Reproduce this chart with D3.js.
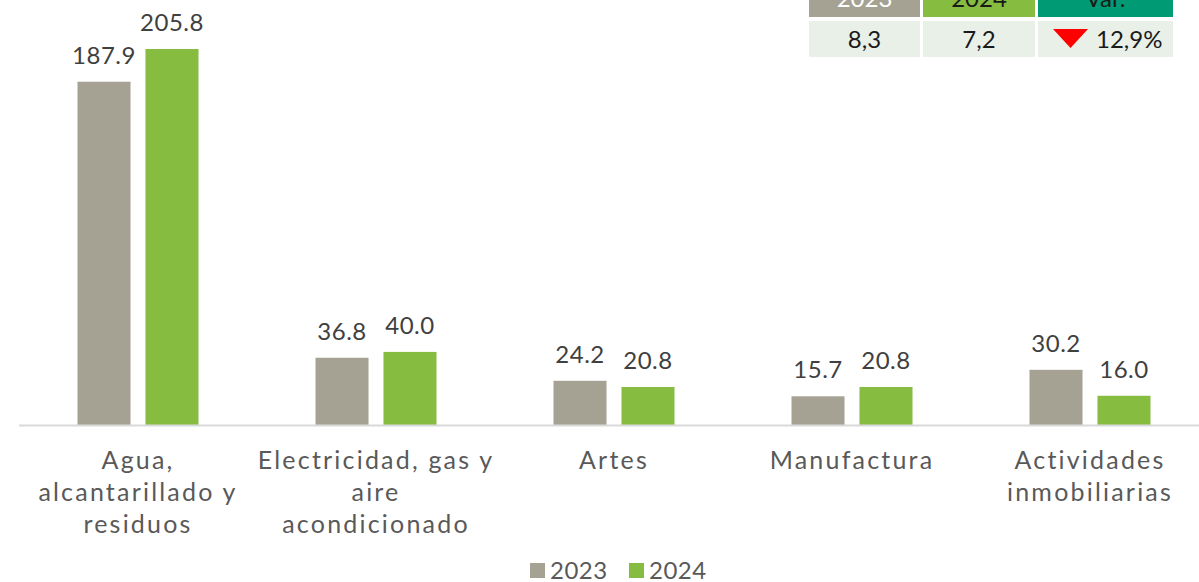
<!DOCTYPE html>
<html>
<head>
<meta charset="utf-8">
<script src="https://cdn.jsdelivr.net/npm/d3@7"></script>
<style>
  body { margin: 0; background: #fff; }
  svg text { font-family: "Lato", "DejaVu Sans", sans-serif; }
</style>
</head>
<body>
<div id="chart"></div>
<script>
const categories = [
  ["Agua,", "alcantarillado y", "residuos"],
  ["Electricidad, gas y", "aire", "acondicionado"],
  ["Artes"],
  ["Manufactura"],
  ["Actividades", "inmobiliarias"]
];
const series = ["2023", "2024"];
const values2023 = [187.9, 36.8, 24.2, 15.7, 30.2];
const values2024 = [205.8, 40.0, 20.8, 20.8, 16.0];
const tableHead = ["2023", "2024", "Var."];
const tableRow = ["8,3", "7,2", "12,9%"];

const colors = { "2023": "#a5a294", "2024": "#86bc40" };
const width = 1199, height = 582;
const baseY = 425;

const svg = d3.select("#chart").append("svg")
  .attr("width", width).attr("height", height);

const x0 = d3.scaleBand().domain(d3.range(categories.length)).range([19, 1209]);
const x1 = d3.scaleBand().domain(series).range([-60.5, 60.5]).paddingInner(0.22);
const y = d3.scaleLinear().domain([0, 205.8]).range([baseY, 49]);

const data = categories.map((c, i) => ({ i, vals: [values2023[i], values2024[i]] }));

const groups = svg.selectAll("g.grp").data(data).enter().append("g")
  .attr("transform", d => "translate(" + (x0(d.i) + x0.bandwidth() / 2) + ",0)");

groups.selectAll("rect").data(d => d.vals.map((v, k) => ({ k: series[k], v })))
  .enter().append("rect")
  .attr("x", d => x1(d.k))
  .attr("width", x1.bandwidth())
  .attr("y", d => y(d.v))
  .attr("height", d => baseY - y(d.v))
  .style("fill", d => colors[d.k]);

groups.selectAll("text.val").data(d => d.vals.map((v, k) => ({ k: series[k], v })))
  .enter().append("text")
  .attr("class", "val")
  .attr("x", d => x1(d.k) + x1.bandwidth() / 2)
  .attr("y", d => y(d.v) - 18)
  .attr("text-anchor", "middle")
  .style("font-size", "24px")
  .style("letter-spacing", "0.5px")
  .style("fill", "#404040")
  .text(d => d.v.toFixed(1));

// axis line
svg.append("line")
  .attr("x1", 19).attr("x2", 1199)
  .attr("y1", baseY + 0.5).attr("y2", baseY + 0.5)
  .style("stroke", "#d9d9d9").style("stroke-width", 2);

// category labels
groups.append("text")
  .attr("text-anchor", "middle")
  .style("font-size", "25px")
  .style("letter-spacing", "2.2px")
  .style("fill", "#595959")
  .selectAll("tspan").data(d => categories[d.i])
  .enter().append("tspan")
  .attr("x", 0)
  .attr("y", (d, j) => 469 + j * 32)
  .text(d => d);

// legend
const legend = svg.append("g").attr("transform", "translate(530,0)");
series.forEach((s, k) => {
  const g = legend.append("g").attr("transform", "translate(" + (k * 99) + ",0)");
  g.append("rect").attr("x", 0).attr("y", 563).attr("width", 15).attr("height", 15)
    .style("fill", colors[s]);
  g.append("text").attr("x", 20).attr("y", 579)
    .style("font-size", "24px").style("letter-spacing", "0.5px").style("fill", "#595959").text(s);
});

// table
const colX = [809, 923, 1038];
const colW = [111, 112, 135];
const headFill = ["#a5a294", "#86bc40", "#009a74"];
const headText = ["#ffffff", "#1a1a1a", "#1a1a1a"];
tableHead.forEach((h, k) => {
  svg.append("rect").attr("x", colX[k]).attr("y", -20).attr("width", colW[k]).attr("height", 37)
    .style("fill", headFill[k]);
  svg.append("text").attr("x", colX[k] + colW[k] / 2).attr("y", 7)
    .attr("text-anchor", "middle").style("font-size", "24px").style("fill", headText[k]).text(h);
  svg.append("rect").attr("x", colX[k]).attr("y", 21).attr("width", colW[k]).attr("height", 36)
    .style("fill", "#e8f0e8");
});
svg.append("text").attr("x", colX[0] + colW[0] / 2).attr("y", 48)
  .attr("text-anchor", "middle").style("font-size", "24px").style("fill", "#1a1a1a").text(tableRow[0]);
svg.append("text").attr("x", colX[1] + colW[1] / 2).attr("y", 48)
  .attr("text-anchor", "middle").style("font-size", "24px").style("fill", "#1a1a1a").text(tableRow[1]);
svg.append("path").attr("d", "M1053,29 L1088,29 L1070.5,48 Z").style("fill", "#ff0000");
svg.append("text").attr("x", 1096).attr("y", 48)
  .style("font-size", "24px").style("fill", "#1a1a1a").text(tableRow[2]);
</script>
</body>
</html>
